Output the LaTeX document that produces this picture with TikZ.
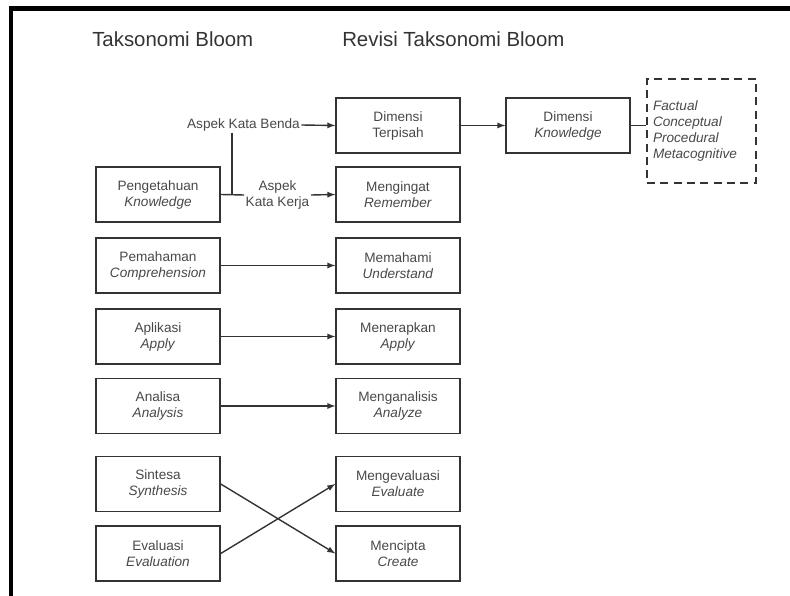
\documentclass[tikz,border=0pt]{standalone}
\usepackage{fontspec}
\setmainfont{Liberation Sans}
\usepackage{xcolor}
\usepackage{tikz}
\usetikzlibrary{arrows}
\usetikzlibrary{calc}
\usetikzlibrary{positioning}

\definecolor{boxline}{HTML}{333333}
\definecolor{boxtext}{HTML}{484848}

\tikzset{
  level/.style={draw=boxline, line width=1.1pt, minimum width=93pt,
    minimum height=41pt, align=center, text=boxtext,
    font=\fontsize{10.2}{12}\selectfont},
  aspect/.style={text=boxtext, align=center, inner sep=1pt,
    font=\fontsize{10.2}{12}\selectfont},
  heading/.style={text=boxline, anchor=west, inner sep=0pt,
    font=\fontsize{15.3}{18}\selectfont},
  link/.style={draw=boxline, line width=1.05pt, -latex}
}

\begin{document}
\begin{tikzpicture}[x=0.75pt, y=-0.75pt]
  \useasboundingbox (0,0) rectangle (790,596);

  % frame
  \draw [line width=3.2pt, line join=miter] (11,596) -- (11,8.5) -- (790,8.5);

  % headings
  \node [heading] (old) at (92,39) {Taksonomi Bloom};
  \node [heading] (new) at (342,39) {Revisi Taksonomi Bloom};

  % taksonomi bloom
  \node [level] (peng) at (158,194.5) {Pengetahuan\\\textit{Knowledge}};
  \node [level] (pema) at (158,265.5) {Pemahaman\\\textit{Comprehension}};
  \node [level] (apli) at (158,336.5) {Aplikasi\\\textit{Apply}};
  \node [level] (anal) at (158,406)   {Analisa\\\textit{Analysis}};
  \node [level] (sint) at (158,484)   {Sintesa\\\textit{Synthesis}};
  \node [level] (eval) at (158,553.5) {Evaluasi\\\textit{Evaluation}};

  % revisi
  \node [level] (terp) at (398,125.5) {Dimensi\\Terpisah};
  \node [level] (ingt) at (398,194.5) {Mengingat\\\textit{Remember}};
  \node [level] (pahm) at (398,265.5) {Memahami\\\textit{Understand}};
  \node [level] (trap) at (398,336.5) {Menerapkan\\\textit{Apply}};
  \node [level] (alis) at (398,406)   {Menganalisis\\\textit{Analyze}};
  \node [level] (mevl) at (398,484)   {Mengevaluasi\\\textit{Evaluate}};
  \node [level] (cipt) at (398,553.5) {Mencipta\\\textit{Create}};

  \node [level] (know) at (568,125.5) {Dimensi\\\textit{Knowledge}};
  \node [draw=boxline, dash pattern=on 6pt off 4pt, line width=1.1pt,
    text=boxtext, align=left, text width=72.75pt, inner xsep=4.5pt,
    minimum height=78pt, font=\fontsize{10.2}{12}\selectfont\itshape]
    (kind) at (701.5,131) {Factual\\Conceptual\\Procedural\\Metacognitive};

  % aspek
  \node [aspect] (benda) at (243.5,125) {Aspek Kata Benda};
  \node [aspect] (kerja) at (277.5,195) {Aspek\\Kata Kerja};
  \coordinate (jn) at (232,195);

  \draw [draw=boxline, line width=1.05pt] (peng.east) -- (kerja.west);
  \draw [draw=boxline, line width=1.05pt] (jn |- benda.south) -- (jn);
  \draw [link] (benda.east) -- (terp.west);
  \draw [link] (kerja.east) -- (ingt.west);
  \draw [link] (terp.east) -- (know.west);
  \draw [draw=boxline, line width=1.05pt] (know.east) -- (kind.west |- know.east);

  % straight levels
  \foreach \a/\b in {pema/pahm, apli/trap, anal/alis} {
    \draw [link] (\a.east) -- (\b.west);
  }
  % swapped levels
  \draw [link] (sint.east) -- (cipt.west);
  \draw [link] (eval.east) -- (mevl.west);

\end{tikzpicture}
\end{document}
